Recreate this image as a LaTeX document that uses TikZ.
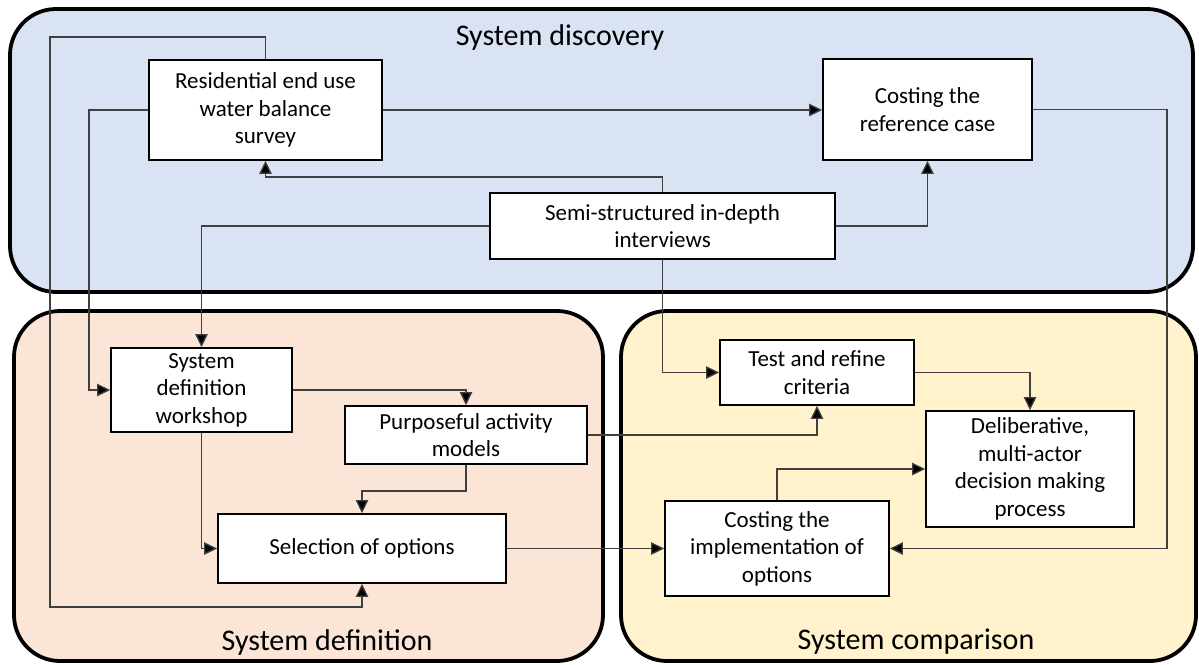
\documentclass[tikz,border=0pt]{standalone}
\usepackage{fontspec}
\setmainfont{Carlito}
\usetikzlibrary{arrows.meta}
\definecolor{discfill}{HTML}{DAE3F3}
\definecolor{deffill}{HTML}{FBE5D6}
\definecolor{compfill}{HTML}{FFF2CC}
\definecolor{linegray}{HTML}{404040}
\tikzset{
  region/.style={draw=black, line width=3.8pt, rounded corners=46pt},
  regtitle/.style={font=\fontsize{30}{36}\selectfont, inner sep=0pt},
  stepbox/.style={draw=black, fill=white, line width=1.8pt, align=center,
    inner sep=0pt, font=\fontsize{23}{27.5}\selectfont},
  conn/.style={draw=linegray, line width=1.3pt,
    -{Triangle[length=13pt,width=12.5pt,fill=black]}},
}
\begin{document}
\begin{tikzpicture}[x=1pt,y=-1pt]
\useasboundingbox (0,0) rectangle (1199,664);

% phase regions
\draw[region, fill=discfill] (10,9) rectangle (1193,292);
\draw[region, fill=deffill] (14,311) rectangle (603,661);
\draw[region, fill=compfill] (621,311) rectangle (1196,661);

\node[regtitle] (tdisc) at (560,37) {System discovery};
\node[regtitle] (tdef) at (327,642) {System definition};
\node[regtitle] (tcomp) at (916,642) {System comparison};

% activities
\node[stepbox, minimum width=233pt, minimum height=100pt] (res) at (265.5,110)
  {Residential end use\\water balance\\survey};
\node[stepbox, minimum width=209pt, minimum height=101pt] (cref) at (927.5,109.5)
  {Costing the\\reference case};
\node[stepbox, minimum width=345pt, minimum height=66pt] (semi) at (662.5,226)
  {Semi-structured in-depth\\interviews};
\node[stepbox, minimum width=181pt, minimum height=84pt] (ws) at (201.5,390)
  {System\\definition\\workshop};
\node[stepbox, minimum width=242pt, minimum height=58pt] (pam) at (466,435)
  {Purposeful activity\\models};
\node[stepbox, minimum width=288pt, minimum height=69pt] (sel) at (362,548.5)
  {Selection of options};
\node[stepbox, minimum width=194pt, minimum height=65pt] (trc) at (817,372.5)
  {Test and refine\\criteria};
\node[stepbox, minimum width=208pt, minimum height=116pt] (del) at (1030,469)
  {Deliberative,\\multi-actor\\decision making\\process};
\node[stepbox, minimum width=224pt, minimum height=95pt] (cimp) at (777,548.5)
  {Costing the\\implementation of\\options};

% flows
\draw[conn] (res.north) |- (50,37) |- (sel.south |- 0,607) -- (sel.south);
\draw[conn] (res.west) -| (89,390) -- (ws.west);
\draw[conn] (res.east) -- (res.east -| cref.west);
\draw[conn] (semi.north) -- ++(0,-15) -| (res.south);
\draw[conn] (semi.west) -| (ws.north);
\draw[conn] (semi.east) -| (cref.south);
\draw[conn] (semi.south) |- (trc.west);
\draw[conn] (cref.east) -- (cref.east -| 1167,0) |- (cimp.east);
\draw[conn] (ws.east) -| (pam.north);
\draw[conn] (ws.south) |- (sel.west);
\draw[conn] (pam.south) -- ++(0,26) -| (sel.north);
\draw[conn] (pam.east) -| (trc.south);
\draw[conn] (sel.east) -- (cimp.west);
\draw[conn] (trc.east) -| (del.north);
\draw[conn] (cimp.north) |- (del.west);
\end{tikzpicture}
\end{document}
